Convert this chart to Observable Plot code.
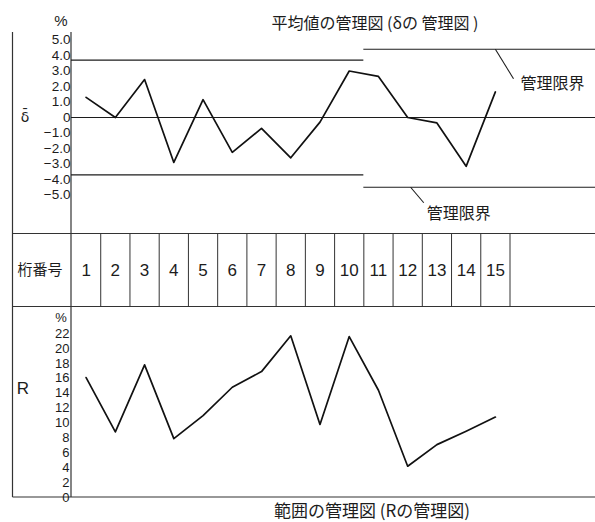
<!DOCTYPE html>
<html><head><meta charset="utf-8">
<script src="https://cdn.jsdelivr.net/npm/d3@7"></script>
<script src="https://cdn.jsdelivr.net/npm/@observablehq/plot@0.6"></script>
<style>
html,body{margin:0;padding:0;background:#fff;overflow:hidden}
#chart{position:relative;width:595px;height:522px;background:#fff}
#chart svg{position:absolute;left:0;top:0}
</style></head><body><div id="chart"></div>
<script>
// ---- data ----
const rows = [1,2,3,4,5,6,7,8,9,10,11,12,13,14,15];
const deltaValues = [1.3, 0.0, 2.45, -2.9, 1.15, -2.25, -0.7, -2.6, -0.3, 3.0, 2.65, 0.0, -0.35, -3.15, 1.65];
const rangeValues = [16.1, 8.8, 17.8, 7.9, 11.0, 14.8, 16.9, 21.7, 9.8, 21.6, 14.4, 4.2, 7.1, 8.9, 10.8];
const deltaTicks = [5, 4, 3, 2, 1, 0, -1, -2, -3, -4, -5];
const rangeTicks = [0, 2, 4, 6, 8, 10, 12, 14, 16, 18, 20, 22];
const limitUpper = [3.7, 4.4];   // rows 1-10, rows 11-
const limitLower = [-3.7, -4.5];
const titleText = "平均値の管理図 (δの 管理図 )";
const captionText = "範囲の管理図 (Rの管理図)";
const rowHeader = "桁番号";
const limitLabel = "管理限界";

// ---- layout ----
const W = 595, H = 522;
const NARROW = '"Liberation Sans Narrow","Liberation Sans",sans-serif';
const CJK = '"Noto Sans CJK JP","Noto Sans CJK SC",sans-serif';
const INK = "#1c1c1c";
const chart = document.getElementById("chart");
const common = {width: W, height: H, marginLeft: 71, marginRight: 85.5,
  style: {background: "transparent", fontFamily: NARROW, fontSize: "14px", color: INK}};
const x = {domain: [0.5, 15.5], axis: null};
const edge = 18.45; // right edge of the sheet in row units

// frame decoration
const deco = d3.create("svg").attr("width", W).attr("height", H);
const frameLines = [
  [12.5, 32, 12.5, 497], [71, 32, 71, 497],
  [12.5, 233.5, W, 233.5], [12.5, 306.5, W, 306.5], [12.5, 497, W, 497]
];
deco.selectAll("line").data(frameLines).join("line")
  .attr("x1", d => d[0]).attr("y1", d => d[1]).attr("x2", d => d[2]).attr("y2", d => d[3])
  .attr("stroke", "#333").attr("stroke-width", 1.2);
const texts = [
  {t: titleText, x: 375, y: 23, fs: 16, ff: CJK, a: "middle"},
  {t: captionText, x: 372, y: 511, fs: 17, ff: CJK, a: "middle"},
  {t: rowHeader, x: 40, y: 270, fs: 15, ff: CJK, a: "middle"},
  {t: "%", x: 61, y: 21, fs: 15, ff: NARROW, a: "middle"},
  {t: "%", x: 61, y: 317, fs: 13, ff: NARROW, a: "middle"},
  {t: "R", x: 23, y: 388, fs: 17, ff: NARROW, a: "middle"},
  {t: "δ̄", x: 25, y: 117, fs: 14, ff: '"DejaVu Sans",sans-serif', a: "middle"}
];
deco.selectAll("text").data(texts).join("text")
  .attr("x", d => d.x).attr("y", d => d.y).attr("dy", "0.35em")
  .attr("text-anchor", d => d.a).attr("font-size", d => d.fs)
  .attr("font-family", d => d.ff).attr("fill", INK).text(d => d.t);
chart.append(deco.node());

// top chart (δ)
const deltaData = rows.map((r, i) => ({row: r, v: deltaValues[i]}));
const limitSegs = [
  {x1: 0.5, x2: 10.5, y: limitUpper[0]}, {x1: 10.5, x2: edge, y: limitUpper[1]},
  {x1: 0.5, x2: 10.5, y: limitLower[0]}, {x1: 10.5, x2: edge, y: limitLower[1]}
];
const leaders = [
  {x1: 15.0, y1: limitUpper[1], x2: 15.62, y2: 2.5},
  {x1: 12.1, y1: limitLower[1], x2: 12.55, y2: -5.5}
];
const labels = [
  {x: 16.95, y: 2.15, t: limitLabel},
  {x: 13.75, y: -6.2, t: limitLabel}
];
const fmtDelta = d => d === 0 ? "0" : d3.format(".1f")(d);
const topPlot = Plot.plot({
  ...common, marginTop: 39.5, marginBottom: 327.5,
  x, y: {domain: [-5, 5], axis: null},
  marks: [
    Plot.ruleY([0], {x1: 0.5, x2: edge, stroke: INK, strokeWidth: 1.2}),
    Plot.ruleY(limitSegs, {y: "y", x1: "x1", x2: "x2", stroke: INK, strokeWidth: 1.1}),
    Plot.line(deltaData, {x: "row", y: "v", stroke: "#111", strokeWidth: 1.7}),
    Plot.axisY(deltaTicks, {anchor: "left", label: null, tickSize: 0, tickPadding: 1, tickFormat: fmtDelta,
      fontSize: 13.5, fontFamily: NARROW, fill: INK}),
    Plot.link(leaders, {x1: "x1", y1: "y1", x2: "x2", y2: "y2", stroke: INK, strokeWidth: 1.1}),
    Plot.text(labels, {x: "x", y: "y", text: "t", fontSize: 16, fontFamily: CJK, fill: INK})
  ]
});
chart.append(topPlot);

// table row
const dividers = rows.map(r => r + 0.5);
const tablePlot = Plot.plot({
  ...common, marginTop: 233.5, marginBottom: 215.5,
  x,
  marks: [
    Plot.ruleX(dividers, {stroke: "#333", strokeWidth: 1}),
    Plot.text(rows, {x: d => d, text: d => String(d), fontSize: 17, fontFamily: NARROW, fill: INK})
  ]
});
chart.append(tablePlot);

// bottom chart (R)
const rangeData = rows.map((r, i) => ({row: r, v: rangeValues[i]}));
const rPlot = Plot.plot({
  ...common, marginTop: 333.1, marginBottom: 25,
  x, y: {domain: [0, 22], axis: null},
  marks: [
    Plot.line(rangeData, {x: "row", y: "v", stroke: "#111", strokeWidth: 1.7}),
    Plot.axisY(rangeTicks, {anchor: "left", label: null, tickSize: 0, tickPadding: 2, tickFormat: d => String(d),
      fontSize: 13, fontFamily: NARROW, fill: INK})
  ]
});
chart.append(rPlot);
</script></body></html>
